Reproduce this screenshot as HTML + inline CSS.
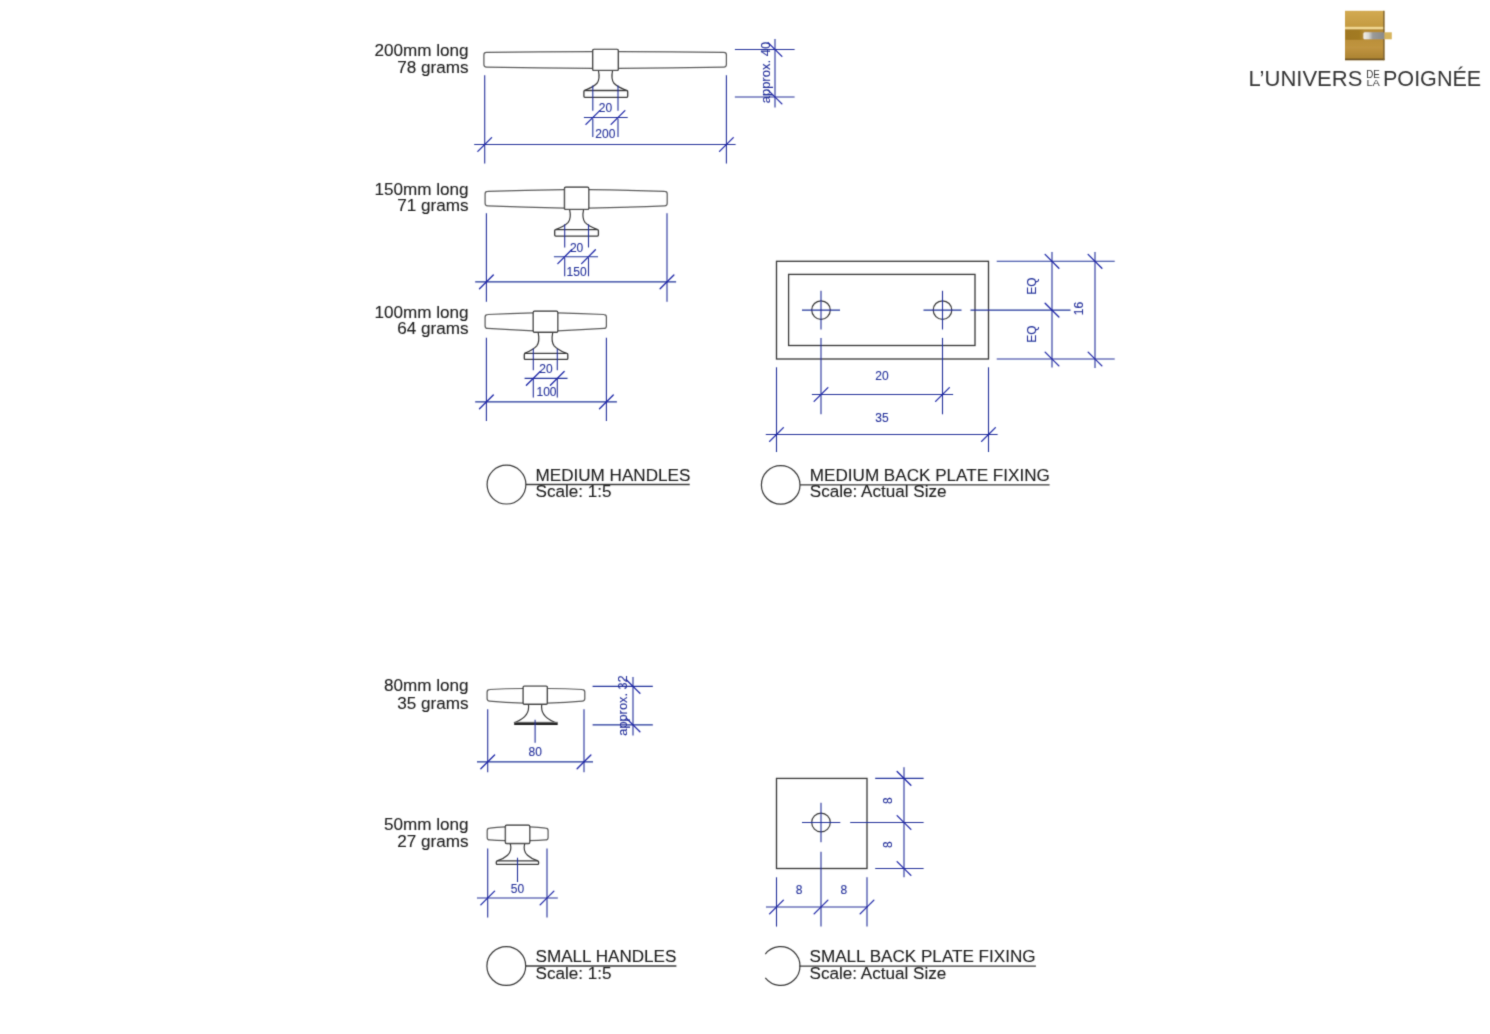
<!DOCTYPE html><html><head><meta charset="utf-8"><style>html,body{margin:0;padding:0;background:#fff;}svg{display:block;}text{font-family:"Liberation Sans",sans-serif;}</style></head><body>
<svg width="1490" height="1034" viewBox="0 0 1490 1034">
<rect width="1490" height="1034" fill="#fff"/>
<filter id="bl" x="0" y="0" width="1490" height="1034" filterUnits="userSpaceOnUse"><feConvolveMatrix order="3" kernelMatrix="1 5 1 5 25 5 1 5 1" edgeMode="duplicate"/></filter><g filter="url(#bl)">
<text x="468.5" y="55.9" font-size="17.1" fill="#202020" stroke="#202020" stroke-width="0.1" text-anchor="end" >200mm long</text>
<text x="468.5" y="73.4" font-size="17.1" fill="#202020" stroke="#202020" stroke-width="0.1" text-anchor="end" >78 grams</text>
<path d="M592.70,51.50 Q538.30,51.60 486.40,52.30 Q483.90,52.30 483.90,54.80 L483.90,64.60 Q483.90,67.10 486.40,67.10 Q538.30,68.00 592.70,68.30" fill="none" stroke="#5c5c5c" stroke-width="1.25"/>
<path d="M618.30,51.50 Q672.35,51.60 723.90,52.30 Q726.40,52.30 726.40,54.80 L726.40,64.60 Q726.40,67.10 723.90,67.10 Q672.35,68.00 618.30,68.30" fill="none" stroke="#5c5c5c" stroke-width="1.25"/>
<path d="M598.40,70.40 C599.40,75.22 599.60,80.05 597.00,83.26 C594.50,86.08 589.50,88.49 584.30,90.50" fill="none" stroke="#383838" stroke-width="1.2"/>
<path d="M612.60,70.40 C611.60,75.22 611.40,80.05 614.00,83.26 C616.50,86.08 621.50,88.49 626.70,90.50" fill="none" stroke="#383838" stroke-width="1.2"/>
<rect x="583.90" y="90.50" width="43.80" height="6.80" rx="1" fill="none" stroke="#383838" stroke-width="1.3"/>
<rect x="592.70" y="49.40" width="25.60" height="21.00" rx="1.2" fill="#fff" stroke="#383838" stroke-width="1.4"/>
<line x1="592.80" y1="85.60" x2="592.80" y2="110.80" stroke="#24309a" stroke-width="1.1" />
<line x1="592.80" y1="118.50" x2="592.80" y2="136.90" stroke="#24309a" stroke-width="1.1" />
<line x1="618.00" y1="85.60" x2="618.00" y2="110.80" stroke="#24309a" stroke-width="1.1" />
<line x1="618.00" y1="118.50" x2="618.00" y2="136.90" stroke="#24309a" stroke-width="1.1" />
<line x1="583.90" y1="117.50" x2="627.70" y2="117.50" stroke="#24309a" stroke-width="1.1" />
<line x1="585.90" y1="124.40" x2="599.70" y2="110.60" stroke="#2028a8" stroke-width="1.3" stroke-linecap="round"/>
<line x1="611.10" y1="124.40" x2="624.90" y2="110.60" stroke="#2028a8" stroke-width="1.3" stroke-linecap="round"/>
<text x="605.5" y="111.8" font-size="12" fill="#24309a" stroke="#24309a" stroke-width="0.1" text-anchor="middle" >20</text>
<text x="605.3" y="138.4" font-size="12" fill="#24309a" stroke="#24309a" stroke-width="0.1" text-anchor="middle" >200</text>
<line x1="484.70" y1="75.30" x2="484.70" y2="163.40" stroke="#24309a" stroke-width="1.1" />
<line x1="726.40" y1="75.30" x2="726.40" y2="163.40" stroke="#24309a" stroke-width="1.1" />
<line x1="474.20" y1="144.50" x2="735.60" y2="144.50" stroke="#24309a" stroke-width="1.1" />
<line x1="477.80" y1="151.40" x2="491.60" y2="137.60" stroke="#2028a8" stroke-width="1.3" stroke-linecap="round"/>
<line x1="719.50" y1="151.40" x2="733.30" y2="137.60" stroke="#2028a8" stroke-width="1.3" stroke-linecap="round"/>
<line x1="734.90" y1="49.50" x2="794.60" y2="49.50" stroke="#24309a" stroke-width="1.1" />
<line x1="734.90" y1="97.00" x2="794.60" y2="97.00" stroke="#24309a" stroke-width="1.1" />
<line x1="775.00" y1="39.00" x2="775.00" y2="107.50" stroke="#24309a" stroke-width="1.1" />
<line x1="768.10" y1="42.60" x2="781.90" y2="56.40" stroke="#2028a8" stroke-width="1.3" stroke-linecap="round"/>
<line x1="768.10" y1="90.10" x2="781.90" y2="103.90" stroke="#2028a8" stroke-width="1.3" stroke-linecap="round"/>
<text x="0" y="0" font-size="13" fill="#24309a" stroke="#24309a" stroke-width="0.1" text-anchor="middle" transform="translate(769.8,72.6) rotate(-90)">approx. 40</text>
<text x="468.5" y="194.9" font-size="17.1" fill="#202020" stroke="#202020" stroke-width="0.1" text-anchor="end" >150mm long</text>
<text x="468.5" y="211.2" font-size="17.1" fill="#202020" stroke="#202020" stroke-width="0.1" text-anchor="end" >71 grams</text>
<path d="M564.50,189.60 Q524.80,190.15 487.60,191.30 Q485.10,191.30 485.10,193.80 L485.10,203.30 Q485.10,205.80 487.60,205.80 Q524.80,207.25 564.50,208.10" fill="none" stroke="#5c5c5c" stroke-width="1.25"/>
<path d="M588.70,189.60 Q627.95,190.15 664.70,191.30 Q667.20,191.30 667.20,193.80 L667.20,203.30 Q667.20,205.80 664.70,205.80 Q627.95,207.25 588.70,208.10" fill="none" stroke="#5c5c5c" stroke-width="1.25"/>
<path d="M569.60,209.40 C570.60,214.25 570.80,219.10 568.20,222.33 C565.70,225.16 560.70,227.58 555.60,229.60" fill="none" stroke="#383838" stroke-width="1.2"/>
<path d="M583.60,209.40 C582.60,214.25 582.40,219.10 585.00,222.33 C587.50,225.16 592.50,227.58 597.60,229.60" fill="none" stroke="#383838" stroke-width="1.2"/>
<rect x="554.70" y="229.60" width="43.70" height="6.50" rx="1" fill="none" stroke="#383838" stroke-width="1.3"/>
<rect x="564.50" y="187.20" width="24.20" height="22.20" rx="1.2" fill="#fff" stroke="#383838" stroke-width="1.4"/>
<line x1="564.70" y1="224.30" x2="564.70" y2="247.50" stroke="#24309a" stroke-width="1.1" />
<line x1="564.70" y1="257.60" x2="564.70" y2="276.20" stroke="#24309a" stroke-width="1.1" />
<line x1="588.50" y1="224.30" x2="588.50" y2="247.50" stroke="#24309a" stroke-width="1.1" />
<line x1="588.50" y1="257.60" x2="588.50" y2="276.20" stroke="#24309a" stroke-width="1.1" />
<line x1="553.90" y1="256.70" x2="598.00" y2="256.70" stroke="#24309a" stroke-width="1.1" />
<line x1="557.80" y1="263.60" x2="571.60" y2="249.80" stroke="#2028a8" stroke-width="1.3" stroke-linecap="round"/>
<line x1="581.60" y1="263.60" x2="595.40" y2="249.80" stroke="#2028a8" stroke-width="1.3" stroke-linecap="round"/>
<text x="576.6" y="251.5" font-size="12" fill="#24309a" stroke="#24309a" stroke-width="0.1" text-anchor="middle" >20</text>
<text x="576.6" y="276.3" font-size="12" fill="#24309a" stroke="#24309a" stroke-width="0.1" text-anchor="middle" >150</text>
<line x1="486.40" y1="213.30" x2="486.40" y2="301.70" stroke="#24309a" stroke-width="1.1" />
<line x1="667.00" y1="213.30" x2="667.00" y2="301.70" stroke="#24309a" stroke-width="1.1" />
<line x1="475.20" y1="281.90" x2="676.10" y2="281.90" stroke="#24309a" stroke-width="1.1" />
<line x1="479.50" y1="288.80" x2="493.30" y2="275.00" stroke="#2028a8" stroke-width="1.3" stroke-linecap="round"/>
<line x1="660.10" y1="288.80" x2="673.90" y2="275.00" stroke="#2028a8" stroke-width="1.3" stroke-linecap="round"/>
<text x="468.5" y="317.9" font-size="17.1" fill="#202020" stroke="#202020" stroke-width="0.1" text-anchor="end" >100mm long</text>
<text x="468.5" y="334.2" font-size="17.1" fill="#202020" stroke="#202020" stroke-width="0.1" text-anchor="end" >64 grams</text>
<path d="M533.30,312.80 Q509.20,313.35 487.60,314.50 Q485.10,314.50 485.10,317.00 L485.10,325.90 Q485.10,328.40 487.60,328.40 Q509.20,329.90 533.30,330.80" fill="none" stroke="#5c5c5c" stroke-width="1.25"/>
<path d="M557.70,312.80 Q582.05,313.35 603.90,314.50 Q606.40,314.50 606.40,317.00 L606.40,325.90 Q606.40,328.40 603.90,328.40 Q582.05,329.90 557.70,330.80" fill="none" stroke="#5c5c5c" stroke-width="1.25"/>
<path d="M538.15,332.30 C539.15,337.36 539.35,342.43 536.75,345.80 C534.25,348.76 529.25,351.29 524.50,353.40" fill="none" stroke="#383838" stroke-width="1.2"/>
<path d="M552.75,332.30 C551.75,337.36 551.55,342.43 554.15,345.80 C556.65,348.76 561.65,351.29 566.40,353.40" fill="none" stroke="#383838" stroke-width="1.2"/>
<rect x="524.30" y="353.40" width="43.50" height="6.00" rx="1" fill="none" stroke="#383838" stroke-width="1.3"/>
<rect x="533.30" y="311.30" width="24.40" height="20.90" rx="1.2" fill="#fff" stroke="#383838" stroke-width="1.4"/>
<line x1="533.30" y1="348.80" x2="533.30" y2="370.20" stroke="#24309a" stroke-width="1.1" />
<line x1="533.30" y1="379.00" x2="533.30" y2="397.50" stroke="#24309a" stroke-width="1.1" />
<line x1="557.30" y1="348.80" x2="557.30" y2="370.20" stroke="#24309a" stroke-width="1.1" />
<line x1="557.30" y1="379.00" x2="557.30" y2="397.50" stroke="#24309a" stroke-width="1.1" />
<line x1="524.60" y1="378.40" x2="567.50" y2="378.40" stroke="#24309a" stroke-width="1.1" />
<line x1="526.40" y1="385.30" x2="540.20" y2="371.50" stroke="#2028a8" stroke-width="1.3" stroke-linecap="round"/>
<line x1="550.40" y1="385.30" x2="564.20" y2="371.50" stroke="#2028a8" stroke-width="1.3" stroke-linecap="round"/>
<text x="546" y="372.6" font-size="12" fill="#24309a" stroke="#24309a" stroke-width="0.1" text-anchor="middle" >20</text>
<text x="546.5" y="396.4" font-size="12" fill="#24309a" stroke="#24309a" stroke-width="0.1" text-anchor="middle" >100</text>
<line x1="486.40" y1="337.70" x2="486.40" y2="421.00" stroke="#24309a" stroke-width="1.1" />
<line x1="606.40" y1="337.70" x2="606.40" y2="421.00" stroke="#24309a" stroke-width="1.1" />
<line x1="475.20" y1="401.90" x2="616.90" y2="401.90" stroke="#24309a" stroke-width="1.1" />
<line x1="479.50" y1="408.80" x2="493.30" y2="395.00" stroke="#2028a8" stroke-width="1.3" stroke-linecap="round"/>
<line x1="599.50" y1="408.80" x2="613.30" y2="395.00" stroke="#2028a8" stroke-width="1.3" stroke-linecap="round"/>
<rect x="776.5" y="261.3" width="212.0" height="97.7" fill="none" stroke="#383838" stroke-width="1.3"/>
<rect x="788.6" y="274.4" width="186.4" height="71.1" fill="none" stroke="#383838" stroke-width="1.3"/>
<circle cx="821.0" cy="310.1" r="9.3" fill="none" stroke="#383838" stroke-width="1.2"/>
<line x1="802.00" y1="310.10" x2="840.00" y2="310.10" stroke="#24309a" stroke-width="1.1" />
<line x1="821.00" y1="290.80" x2="821.00" y2="329.50" stroke="#24309a" stroke-width="1.1" />
<line x1="821.00" y1="337.90" x2="821.00" y2="414.30" stroke="#24309a" stroke-width="1.1" />
<circle cx="942.5" cy="310.1" r="9.3" fill="none" stroke="#383838" stroke-width="1.2"/>
<line x1="923.50" y1="310.10" x2="961.50" y2="310.10" stroke="#24309a" stroke-width="1.1" />
<line x1="942.50" y1="290.80" x2="942.50" y2="329.50" stroke="#24309a" stroke-width="1.1" />
<line x1="942.50" y1="337.90" x2="942.50" y2="414.30" stroke="#24309a" stroke-width="1.1" />
<line x1="970.50" y1="310.10" x2="1070.50" y2="310.10" stroke="#24309a" stroke-width="1.1" />
<line x1="811.90" y1="394.50" x2="953.10" y2="394.50" stroke="#24309a" stroke-width="1.1" />
<line x1="814.10" y1="401.40" x2="827.90" y2="387.60" stroke="#2028a8" stroke-width="1.3" stroke-linecap="round"/>
<line x1="935.60" y1="401.40" x2="949.40" y2="387.60" stroke="#2028a8" stroke-width="1.3" stroke-linecap="round"/>
<text x="881.9" y="379.5" font-size="12" fill="#24309a" stroke="#24309a" stroke-width="0.1" text-anchor="middle" >20</text>
<line x1="776.50" y1="367.30" x2="776.50" y2="452.00" stroke="#24309a" stroke-width="1.1" />
<line x1="988.50" y1="367.30" x2="988.50" y2="452.00" stroke="#24309a" stroke-width="1.1" />
<line x1="765.80" y1="434.50" x2="997.60" y2="434.50" stroke="#24309a" stroke-width="1.1" />
<line x1="769.60" y1="441.40" x2="783.40" y2="427.60" stroke="#2028a8" stroke-width="1.3" stroke-linecap="round"/>
<line x1="981.60" y1="441.40" x2="995.40" y2="427.60" stroke="#2028a8" stroke-width="1.3" stroke-linecap="round"/>
<text x="881.9" y="422" font-size="12" fill="#24309a" stroke="#24309a" stroke-width="0.1" text-anchor="middle" >35</text>
<line x1="996.70" y1="261.30" x2="1114.70" y2="261.30" stroke="#24309a" stroke-width="1.1" />
<line x1="996.70" y1="359.00" x2="1114.70" y2="359.00" stroke="#24309a" stroke-width="1.1" />
<line x1="1052.00" y1="251.90" x2="1052.00" y2="367.60" stroke="#24309a" stroke-width="1.1" />
<line x1="1095.00" y1="251.90" x2="1095.00" y2="368.00" stroke="#24309a" stroke-width="1.1" />
<line x1="1045.10" y1="254.40" x2="1058.90" y2="268.20" stroke="#2028a8" stroke-width="1.3" stroke-linecap="round"/>
<line x1="1045.10" y1="303.20" x2="1058.90" y2="317.00" stroke="#2028a8" stroke-width="1.3" stroke-linecap="round"/>
<line x1="1045.10" y1="352.10" x2="1058.90" y2="365.90" stroke="#2028a8" stroke-width="1.3" stroke-linecap="round"/>
<line x1="1088.10" y1="254.40" x2="1101.90" y2="268.20" stroke="#2028a8" stroke-width="1.3" stroke-linecap="round"/>
<line x1="1088.10" y1="352.10" x2="1101.90" y2="365.90" stroke="#2028a8" stroke-width="1.3" stroke-linecap="round"/>
<text x="0" y="0" font-size="12" fill="#24309a" stroke="#24309a" stroke-width="0.1" text-anchor="middle" transform="translate(1035.8,286) rotate(-90)">EQ</text>
<text x="0" y="0" font-size="12" fill="#24309a" stroke="#24309a" stroke-width="0.1" text-anchor="middle" transform="translate(1035.8,334) rotate(-90)">EQ</text>
<text x="0" y="0" font-size="12" fill="#24309a" stroke="#24309a" stroke-width="0.1" text-anchor="middle" transform="translate(1082.8,308.5) rotate(-90)">16</text>
<circle cx="506.5" cy="484.6" r="19.4" fill="none" stroke="#383838" stroke-width="1.2"/>
<line x1="525.90" y1="484.50" x2="689.70" y2="484.50" stroke="#383838" stroke-width="1.3" />
<text x="535.5" y="481.2" font-size="17.1" fill="#202020" stroke="#202020" stroke-width="0.1" text-anchor="start" >MEDIUM HANDLES</text>
<text x="535.5" y="496.5" font-size="17.1" fill="#202020" stroke="#202020" stroke-width="0.1" text-anchor="start" >Scale: 1:5</text>
<circle cx="780.7" cy="484.9" r="19.3" fill="none" stroke="#383838" stroke-width="1.2"/>
<line x1="800.00" y1="484.80" x2="1049.60" y2="484.80" stroke="#383838" stroke-width="1.3" />
<text x="809.8" y="481.2" font-size="17.1" fill="#202020" stroke="#202020" stroke-width="0.1" text-anchor="start" >MEDIUM BACK PLATE FIXING</text>
<text x="809.8" y="496.5" font-size="17.1" fill="#202020" stroke="#202020" stroke-width="0.1" text-anchor="start" >Scale: Actual Size</text>
<text x="468.5" y="691" font-size="17.1" fill="#202020" stroke="#202020" stroke-width="0.1" text-anchor="end" >80mm long</text>
<text x="468.5" y="708.8" font-size="17.1" fill="#202020" stroke="#202020" stroke-width="0.1" text-anchor="end" >35 grams</text>
<path d="M523.20,688.50 Q505.15,688.70 489.60,689.50 Q487.10,689.50 487.10,692.00 L487.10,698.60 Q487.10,701.10 489.60,701.10 Q505.15,702.40 523.20,703.10" fill="none" stroke="#5c5c5c" stroke-width="1.25"/>
<path d="M547.30,688.50 Q566.05,688.70 582.30,689.50 Q584.80,689.50 584.80,692.00 L584.80,698.60 Q584.80,701.10 582.30,701.10 Q566.05,702.40 547.30,703.10" fill="none" stroke="#5c5c5c" stroke-width="1.25"/>
<path d="M528.40,704.3 C529.10,709 528.30,713 524.60,716.6 C521.60,719.5 517.60,721.6 513.90,723.0" fill="none" stroke="#383838" stroke-width="1.2"/>
<path d="M541.80,704.3 C541.10,709 541.90,713 545.60,716.6 C548.60,719.5 552.60,721.6 556.30,723.0" fill="none" stroke="#383838" stroke-width="1.2"/>
<rect x="514.2" y="721.8" width="43.5" height="1.2" fill="#777"/>
<rect x="514.2" y="722.8" width="43.5" height="2.2" fill="#1e1e1e"/>
<rect x="523.20" y="686.10" width="24.10" height="18.10" rx="1.2" fill="#fff" stroke="#383838" stroke-width="1.4"/>
<line x1="535.10" y1="719.80" x2="535.10" y2="742.70" stroke="#24309a" stroke-width="1.1" />
<text x="535.2" y="755.8" font-size="12" fill="#24309a" stroke="#24309a" stroke-width="0.1" text-anchor="middle" >80</text>
<line x1="487.70" y1="709.30" x2="487.70" y2="772.20" stroke="#24309a" stroke-width="1.1" />
<line x1="584.00" y1="709.30" x2="584.00" y2="772.20" stroke="#24309a" stroke-width="1.1" />
<line x1="477.00" y1="761.90" x2="593.00" y2="761.90" stroke="#24309a" stroke-width="1.1" />
<line x1="480.80" y1="768.80" x2="494.60" y2="755.00" stroke="#2028a8" stroke-width="1.3" stroke-linecap="round"/>
<line x1="577.10" y1="768.80" x2="590.90" y2="755.00" stroke="#2028a8" stroke-width="1.3" stroke-linecap="round"/>
<line x1="592.60" y1="686.40" x2="652.80" y2="686.40" stroke="#24309a" stroke-width="1.1" />
<line x1="592.60" y1="724.90" x2="652.80" y2="724.90" stroke="#24309a" stroke-width="1.1" />
<line x1="633.00" y1="676.90" x2="633.00" y2="735.60" stroke="#24309a" stroke-width="1.1" />
<line x1="626.10" y1="679.50" x2="639.90" y2="693.30" stroke="#2028a8" stroke-width="1.3" stroke-linecap="round"/>
<line x1="626.10" y1="718.00" x2="639.90" y2="731.80" stroke="#2028a8" stroke-width="1.3" stroke-linecap="round"/>
<text x="0" y="0" font-size="12.8" fill="#24309a" stroke="#24309a" stroke-width="0.1" text-anchor="middle" transform="translate(627.3,705.5) rotate(-90)">approx. 32</text>
<text x="468.5" y="830.3" font-size="17.1" fill="#202020" stroke="#202020" stroke-width="0.1" text-anchor="end" >50mm long</text>
<text x="468.5" y="846.5" font-size="17.1" fill="#202020" stroke="#202020" stroke-width="0.1" text-anchor="end" >27 grams</text>
<path d="M505.40,826.80 Q496.30,827.20 489.70,828.20 Q487.20,828.20 487.20,830.70 L487.20,837.40 Q487.20,839.90 489.70,839.90 Q496.30,840.55 505.40,840.60" fill="none" stroke="#5c5c5c" stroke-width="1.25"/>
<path d="M529.70,826.80 Q538.90,827.20 545.60,828.20 Q548.10,828.20 548.10,830.70 L548.10,837.40 Q548.10,839.90 545.60,839.90 Q538.90,840.55 529.70,840.60" fill="none" stroke="#5c5c5c" stroke-width="1.25"/>
<path d="M510.30,843.6 C511.50,848 511.00,852 507.50,855.2 C504.50,858 500.50,859.8 497.10,860.9" fill="none" stroke="#383838" stroke-width="1.2"/>
<path d="M524.70,843.6 C523.50,848 524.00,852 527.50,855.2 C530.50,858 534.50,859.8 537.90,860.9" fill="none" stroke="#383838" stroke-width="1.2"/>
<rect x="496.30" y="860.90" width="42.30" height="3.50" rx="1" fill="none" stroke="#383838" stroke-width="1.3"/>
<rect x="505.40" y="825.30" width="24.30" height="18.20" rx="1.2" fill="#fff" stroke="#383838" stroke-width="1.4"/>
<line x1="517.50" y1="857.70" x2="517.50" y2="882.00" stroke="#24309a" stroke-width="1.1" />
<text x="517.5" y="892.7" font-size="12" fill="#24309a" stroke="#24309a" stroke-width="0.1" text-anchor="middle" >50</text>
<line x1="487.70" y1="848.50" x2="487.70" y2="917.60" stroke="#24309a" stroke-width="1.1" />
<line x1="547.00" y1="848.50" x2="547.00" y2="917.60" stroke="#24309a" stroke-width="1.1" />
<line x1="477.00" y1="898.00" x2="557.80" y2="898.00" stroke="#24309a" stroke-width="1.1" />
<line x1="480.80" y1="904.90" x2="494.60" y2="891.10" stroke="#2028a8" stroke-width="1.3" stroke-linecap="round"/>
<line x1="540.10" y1="904.90" x2="553.90" y2="891.10" stroke="#2028a8" stroke-width="1.3" stroke-linecap="round"/>
<rect x="776.5" y="778.4" width="90.5" height="90.1" fill="none" stroke="#383838" stroke-width="1.3"/>
<circle cx="821.0" cy="822.5" r="9.3" fill="none" stroke="#383838" stroke-width="1.2"/>
<line x1="802.00" y1="822.50" x2="840.30" y2="822.50" stroke="#24309a" stroke-width="1.1" />
<line x1="821.00" y1="802.80" x2="821.00" y2="842.20" stroke="#24309a" stroke-width="1.1" />
<line x1="850.20" y1="822.50" x2="923.60" y2="822.50" stroke="#24309a" stroke-width="1.1" />
<line x1="821.00" y1="851.80" x2="821.00" y2="926.60" stroke="#24309a" stroke-width="1.1" />
<line x1="776.50" y1="877.30" x2="776.50" y2="926.60" stroke="#24309a" stroke-width="1.1" />
<line x1="867.00" y1="877.30" x2="867.00" y2="926.60" stroke="#24309a" stroke-width="1.1" />
<line x1="766.00" y1="907.00" x2="867.50" y2="907.00" stroke="#24309a" stroke-width="1.1" />
<line x1="769.60" y1="913.90" x2="783.40" y2="900.10" stroke="#2028a8" stroke-width="1.3" stroke-linecap="round"/>
<line x1="814.10" y1="913.90" x2="827.90" y2="900.10" stroke="#2028a8" stroke-width="1.3" stroke-linecap="round"/>
<line x1="860.10" y1="913.90" x2="873.90" y2="900.10" stroke="#2028a8" stroke-width="1.3" stroke-linecap="round"/>
<text x="799.1" y="894" font-size="12" fill="#24309a" stroke="#24309a" stroke-width="0.1" text-anchor="middle" >8</text>
<text x="843.8" y="894" font-size="12" fill="#24309a" stroke="#24309a" stroke-width="0.1" text-anchor="middle" >8</text>
<line x1="875.20" y1="778.40" x2="923.60" y2="778.40" stroke="#24309a" stroke-width="1.1" />
<line x1="875.20" y1="868.50" x2="923.60" y2="868.50" stroke="#24309a" stroke-width="1.1" />
<line x1="904.00" y1="767.20" x2="904.00" y2="877.30" stroke="#24309a" stroke-width="1.1" />
<line x1="897.10" y1="771.50" x2="910.90" y2="785.30" stroke="#2028a8" stroke-width="1.3" stroke-linecap="round"/>
<line x1="897.10" y1="815.60" x2="910.90" y2="829.40" stroke="#2028a8" stroke-width="1.3" stroke-linecap="round"/>
<line x1="897.10" y1="861.60" x2="910.90" y2="875.40" stroke="#2028a8" stroke-width="1.3" stroke-linecap="round"/>
<text x="0" y="0" font-size="12" fill="#24309a" stroke="#24309a" stroke-width="0.1" text-anchor="middle" transform="translate(891.8,800.7) rotate(-90)">8</text>
<text x="0" y="0" font-size="12" fill="#24309a" stroke="#24309a" stroke-width="0.1" text-anchor="middle" transform="translate(891.8,844.6) rotate(-90)">8</text>
<circle cx="506.3" cy="966" r="19.4" fill="none" stroke="#383838" stroke-width="1.2"/>
<line x1="525.70" y1="966.00" x2="676.40" y2="966.00" stroke="#383838" stroke-width="1.3" />
<text x="535.5" y="962" font-size="17.1" fill="#202020" stroke="#202020" stroke-width="0.1" text-anchor="start" >SMALL HANDLES</text>
<text x="535.5" y="979.3" font-size="17.1" fill="#202020" stroke="#202020" stroke-width="0.1" text-anchor="start" >Scale: 1:5</text>
<path d="M765.31,954.06 A19.4,19.4 0 1 1 765.31,977.94" fill="none" stroke="#383838" stroke-width="1.2"/>
<line x1="799.30" y1="966.20" x2="1035.90" y2="966.20" stroke="#383838" stroke-width="1.3" />
<text x="809.5" y="962.2" font-size="17.1" fill="#202020" stroke="#202020" stroke-width="0.1" text-anchor="start" >SMALL BACK PLATE FIXING</text>
<text x="809.5" y="979.3" font-size="17.1" fill="#202020" stroke="#202020" stroke-width="0.1" text-anchor="start" >Scale: Actual Size</text>
<defs><linearGradient id="gt" x1="0" y1="0" x2="0" y2="1"><stop offset="0" stop-color="#d2aa52"/><stop offset="1" stop-color="#c49a40"/></linearGradient><linearGradient id="gb" x1="0" y1="0" x2="0" y2="1"><stop offset="0" stop-color="#b48a30"/><stop offset="0.6" stop-color="#c09440"/><stop offset="1" stop-color="#a88030"/></linearGradient><linearGradient id="sv" x1="0" y1="0" x2="1" y2="0"><stop offset="0" stop-color="#f4f0e8"/><stop offset="0.25" stop-color="#d8d8d4"/><stop offset="0.45" stop-color="#9a9a98"/><stop offset="1" stop-color="#8a8a88"/></linearGradient></defs>
<rect x="1345" y="10.8" width="39.4" height="16.5" fill="url(#gt)"/>
<rect x="1345" y="26.8" width="39.4" height="2.6" fill="#efd690"/>
<rect x="1345" y="29.2" width="39.4" height="31" fill="url(#gb)"/>
<linearGradient id="db" x1="0" y1="0" x2="1" y2="0"><stop offset="0" stop-color="#a07820"/><stop offset="0.75" stop-color="#a27a22"/><stop offset="1" stop-color="#b08830"/></linearGradient>
<rect x="1345.5" y="29.8" width="18" height="10" fill="url(#db)"/>
<rect x="1345" y="58.6" width="39.4" height="1.6" fill="#6a5020"/>
<rect x="1383.2" y="10.8" width="1.3" height="49.4" fill="#7a6030"/>
<rect x="1363.4" y="32.3" width="21" height="7" rx="1.5" fill="url(#sv)"/>
<rect x="1384.5" y="32.3" width="7.3" height="7" fill="#d6b45c"/>
<text x="1248.6" y="85.9" font-size="21.2" fill="#363636" text-anchor="start" textLength="113.8" lengthAdjust="spacingAndGlyphs" >L’UNIVERS</text>
<text x="1366.2" y="77.9" font-size="10.2" fill="#363636" text-anchor="start" textLength="13.6" lengthAdjust="spacingAndGlyphs" >DE</text>
<text x="1366.4" y="85.8" font-size="9.4" fill="#363636" text-anchor="start" textLength="13.4" lengthAdjust="spacingAndGlyphs" >LA</text>
<text x="1383.0" y="85.9" font-size="21.2" fill="#363636" text-anchor="start" textLength="98.2" lengthAdjust="spacingAndGlyphs" >POIGNÉE</text>
</g></svg></body></html>
